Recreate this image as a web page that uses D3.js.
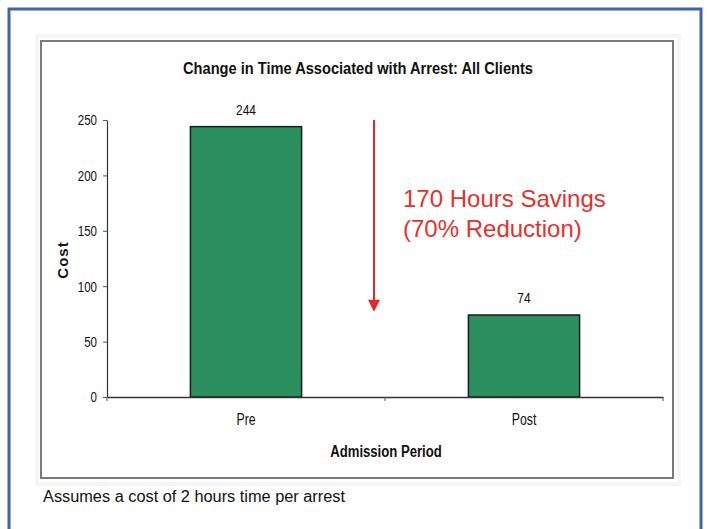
<!DOCTYPE html>
<html>
<head>
<meta charset="utf-8">
<script src="https://cdn.jsdelivr.net/npm/d3@7"></script>
<style>
html,body{margin:0;padding:0;background:#fff;}
svg{display:block;}
text{font-family:"Liberation Sans",Arial,sans-serif;}
</style>
</head>
<body>
<svg id="chart" width="707" height="529"></svg>
<script>
// ---- data ----
const categories = ["Pre", "Post"];
const values = [244, 74];
const yTicks = [0, 50, 100, 150, 200, 250];
const titleText = "Change in Time Associated with Arrest: All Clients";
const yTitle = "Cost";
const xTitle = "Admission Period";
const annotationLines = ["170 Hours Savings", "(70% Reduction)"];
const footnote = "Assumes a cost of 2 hours time per arrest";

const svg = d3.select("#chart");

// squeeze helper (the chart text is horizontally condensed)
function squeeze(sel, f) {
  sel.each(function () {
    const len = this.getComputedTextLength();
    d3.select(this).attr("textLength", len * f).attr("lengthAdjust", "spacingAndGlyphs");
  });
}

// outer blue frame
svg.append("rect")
  .attr("x", 9).attr("y", 9).attr("width", 692).attr("height", 530)
  .attr("fill", "#fff").attr("stroke", "#3f63b3").attr("stroke-width", 3);

// chart box faint shadow + box
svg.append("rect")
  .attr("x", 37).attr("y", 36).attr("width", 642).attr("height", 448)
  .attr("fill", "none").attr("stroke", "#f5f5f5").attr("stroke-width", 4);
svg.append("rect")
  .attr("x", 41).attr("y", 41).attr("width", 632).attr("height", 437)
  .attr("fill", "#fff").attr("stroke", "#7c7a78").attr("stroke-width", 2);

// scales
const plot = {left: 107, right: 663, top: 120, bottom: 397};
const x = d3.scaleBand().domain(categories)
  .range([plot.left, plot.right]).paddingInner(0.6).paddingOuter(0.3);
const y = d3.scaleLinear().domain([0, 250]).range([plot.bottom, plot.top]);

// title
svg.append("text")
  .attr("x", 358).attr("y", 74).attr("text-anchor", "middle")
  .attr("font-size", 17).attr("font-weight", "bold").attr("fill", "#111")
  .attr("textLength", 350).attr("lengthAdjust", "spacingAndGlyphs")
  .text(titleText);

// bars
svg.selectAll("rect.bar").data(values).join("rect")
  .attr("class", "bar")
  .attr("x", (d, i) => x(categories[i]))
  .attr("width", x.bandwidth())
  .attr("y", d => y(d))
  .attr("height", d => y(0) - y(d))
  .attr("fill", "#2b905e")
  .attr("stroke", "#1c1c1c").attr("stroke-width", 1.5);

// value labels
const vl = svg.selectAll("text.val").data(values).join("text")
  .attr("class", "val")
  .attr("x", (d, i) => x(categories[i]) + x.bandwidth() / 2)
  .attr("y", d => y(d) - 12)
  .attr("text-anchor", "middle").attr("font-size", 15).attr("fill", "#111")
  .text(d => d);
squeeze(vl, 0.8);

// y axis
const yAxis = svg.append("g").attr("transform", `translate(${plot.left},0)`)
  .call(d3.axisLeft(y).tickValues(yTicks).tickSize(4).tickPadding(6).tickSizeOuter(0));
yAxis.select(".domain").attr("stroke", "#333").attr("stroke-width", 1.2);
yAxis.selectAll(".tick line").attr("stroke", "#555");
yAxis.selectAll(".tick text").attr("font-size", 15).attr("fill", "#111")
  .attr("font-family", "Liberation Sans, Arial, sans-serif");
squeeze(yAxis.selectAll(".tick text"), 0.77);

// x axis
const xAxis = svg.append("g").attr("transform", `translate(0,${plot.bottom})`)
  .call(d3.axisBottom(x).tickSize(0).tickPadding(17).tickSizeOuter(0));
xAxis.select(".domain").attr("stroke", "#333").attr("stroke-width", 1.5);
xAxis.selectAll(".tick text").attr("font-size", 16).attr("fill", "#111")
  .attr("font-family", "Liberation Sans, Arial, sans-serif");
squeeze(xAxis.selectAll(".tick text"), 0.77);
// category boundary ticks
const bounds = d3.range(categories.length + 1).map(i => plot.left + i * x.step());
svg.selectAll("line.xb").data(bounds).join("line")
  .attr("class", "xb")
  .attr("x1", d => d).attr("x2", d => d)
  .attr("y1", plot.bottom).attr("y2", plot.bottom + 4)
  .attr("stroke", "#555");

// axis titles
const xt = svg.append("text")
  .attr("x", 386).attr("y", 457).attr("text-anchor", "middle")
  .attr("font-size", 16).attr("font-weight", "bold").attr("fill", "#111")
  .text(xTitle);
squeeze(xt, 0.82);

svg.append("text")
  .attr("transform", "translate(68,260) rotate(-90)")
  .attr("text-anchor", "middle")
  .attr("font-size", 15).attr("font-weight", "bold").attr("fill", "#111")
  .attr("letter-spacing", 1)
  .text(yTitle);

// red arrow annotation
const arrowX = 374;
svg.append("line")
  .attr("x1", arrowX).attr("x2", arrowX)
  .attr("y1", y(250)).attr("y2", y(77) - 10)
  .attr("stroke", "#e3262b").attr("stroke-width", 2);
svg.append("path")
  .attr("d", `M${arrowX - 6},${y(77) - 12} L${arrowX + 6},${y(77) - 12} L${arrowX},${y(77)} Z`)
  .attr("fill", "#e3262b");

svg.selectAll("text.ann").data(annotationLines).join("text")
  .attr("class", "ann")
  .attr("x", 403).attr("y", (d, i) => 207 + i * 30)
  .attr("font-size", 24).attr("fill", "#e5302c")
  .text(d => d);

// footnote
svg.append("text")
  .attr("x", 43).attr("y", 502)
  .attr("font-size", 16).attr("fill", "#111")
  .attr("textLength", 302).attr("lengthAdjust", "spacingAndGlyphs")
  .text(footnote);
</script>
</body>
</html>
